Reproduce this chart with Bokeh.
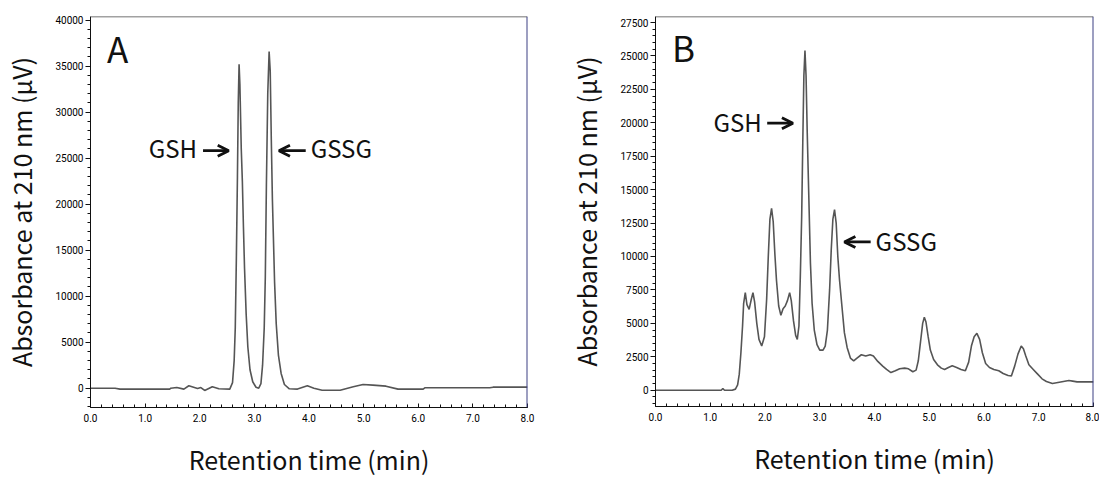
import numpy as np
from bokeh.plotting import figure
from bokeh.layouts import row
from bokeh.models import (FixedTicker, PrintfTickFormatter, BasicTickFormatter,
                          Range1d, Span, Label, Arrow, OpenHead)
from bokeh.embed import file_html
from bokeh.resources import INLINE

# ---------------- data ----------------
time_a = [0.0, 0.45, 0.54, 1.45, 1.47, 1.58, 1.71, 1.80, 1.96, 2.02, 2.09, 2.23, 2.35, 2.55,
          2.60, 2.63, 2.65, 2.67, 2.69, 2.705, 2.72, 2.735, 2.76, 2.78, 2.80, 2.82, 2.85,
          2.88, 2.92, 2.97, 3.03, 3.08, 3.12, 3.15, 3.18, 3.20, 3.22, 3.245, 3.27, 3.29,
          3.31, 3.33, 3.35, 3.37, 3.40, 3.44, 3.49, 3.55, 3.64, 3.79, 3.97, 4.09, 4.24,
          4.57, 4.81, 4.99, 5.17, 5.41, 5.63, 6.09, 6.12, 7.31, 7.37, 8.0]
signal_a = [0, 0, -100, -100, 0, 70, -100, 260, -40, 70, -250, 150, -70, -100,
            600, 3000, 6500, 14000, 23000, 31000, 35200, 33000, 26000, 22500, 17500, 13000, 8000,
            4500, 2000, 700, 100, 0, 500, 2500, 6500, 12000, 22000, 32000, 36600, 34500,
            27000, 20500, 16000, 11500, 7000, 3600, 1600, 400, -70, -100, 260, 0, -220,
            -220, 150, 400, 330, 220, -100, -100, 40, 40, 110, 110]

time_b = [0.0, 1.20, 1.23, 1.26, 1.40, 1.46, 1.50, 1.53, 1.56, 1.59, 1.61, 1.64, 1.67, 1.71,
          1.75, 1.78, 1.81, 1.85, 1.89, 1.94, 1.99, 2.03, 2.06, 2.09, 2.12, 2.15, 2.18, 2.21,
          2.25, 2.29, 2.33, 2.37, 2.41, 2.45, 2.48, 2.52, 2.56, 2.59, 2.62, 2.645, 2.67, 2.69,
          2.71, 2.73, 2.75, 2.77, 2.80, 2.83, 2.86, 2.90, 2.95, 3.00, 3.06, 3.10, 3.14, 3.18,
          3.21, 3.24, 3.27, 3.30, 3.33, 3.36, 3.40, 3.45, 3.50, 3.56, 3.62, 3.68, 3.76, 3.84,
          3.92, 3.98, 4.06, 4.15, 4.22, 4.30, 4.38, 4.46, 4.55, 4.62, 4.70, 4.76, 4.80, 4.84,
          4.88, 4.91, 4.94, 4.98, 5.02, 5.08, 5.15, 5.22, 5.28, 5.35, 5.42, 5.50, 5.58, 5.66,
          5.72, 5.77, 5.82, 5.87, 5.92, 5.97, 6.03, 6.10, 6.18, 6.27, 6.35, 6.44, 6.50, 6.56,
          6.62, 6.68, 6.72, 6.76, 6.82, 6.90, 6.98, 7.06, 7.14, 7.25, 7.35, 7.45, 7.55, 7.62,
          7.70, 8.0]
signal_b = [0, 0, 130, 0, 0, 80, 400, 1200, 2800, 4800, 6500, 7300, 6400, 6050,
            6800, 7300, 6600, 5000, 3800, 3300, 4000, 6800, 10000, 12800, 13600, 12600, 10200, 8200,
            6300, 5600, 6100, 6300, 6700, 7300, 6700, 5200, 4100, 3800, 4800, 8500, 13000, 18500,
            23500, 25400, 23500, 19500, 14500, 9500, 6500, 4500, 3400, 3000, 3000, 3300, 4500, 7500,
            10500, 12800, 13500, 12500, 10000, 8300, 6500, 4300, 3200, 2400, 2200, 2400, 2650, 2550,
            2650, 2550, 2150, 1800, 1550, 1320, 1450, 1600, 1650, 1600, 1380, 1500, 2200, 3600,
            5000, 5450, 5100, 4000, 3000, 2300, 1900, 1650, 1550, 1700, 1820, 1700, 1550, 1450,
            2100, 3300, 4000, 4250, 3800, 2800, 2000, 1700, 1550, 1450, 1250, 1100, 1070, 1800,
            2700, 3300, 3100, 2600, 1900, 1550, 1200, 850, 650, 500, 580, 650, 720, 680,
            620, 620]

x_ticks = [0, 1, 2, 3, 4, 5, 6, 7, 8]
y_ticks_a = [0, 5000, 10000, 15000, 20000, 25000, 30000, 35000, 40000]
y_ticks_b = [0, 2500, 5000, 7500, 10000, 12500, 15000, 17500, 20000, 22500, 25000, 27500]

panel_letters = ["A", "B"]
peak_labels = ["GSH", "GSSG"]
x_title = "Retention time (min)"
y_title = "Absorbance at 210 nm (μV)"

LABEL_FONT = "Noto Sans CJK JP"
TICK_FONT = "Roboto"
INK = "#111111"


def make_panel(t, s, yr, yticks, yminor, fw, fh, bl, br, bt, bb,
               letter, letter_pos, gsh, gssg):
    p = figure(frame_width=fw, frame_height=fh, output_backend="svg",
               toolbar_location=None, x_range=Range1d(0, 8), y_range=Range1d(*yr),
               min_border_left=bl, min_border_right=br, min_border_top=bt,
               min_border_bottom=bb, background_fill_color="white",
               border_fill_color="white")
    p.outline_line_color = None
    p.grid.visible = False

    p.line(t, s, line_color="#555555", line_width=1.6)

    # x axis
    xa = p.xaxis[0]
    xa.ticker = FixedTicker(ticks=x_ticks, minor_ticks=list(np.arange(0, 8.001, 0.2)))
    xa.formatter = PrintfTickFormatter(format="%.1f")
    xa.major_tick_in = 4
    xa.major_tick_out = 0
    xa.minor_tick_in = 3
    xa.minor_tick_out = 0
    xa.major_label_standoff = 6
    xa.axis_label = x_title
    xa.axis_label_standoff = 16
    # y axis
    ya = p.yaxis[0]
    ya.ticker = FixedTicker(ticks=yticks, minor_ticks=yminor)
    ya.formatter = BasicTickFormatter(use_scientific=False)
    ya.major_tick_in = 0
    ya.major_tick_out = 5
    ya.minor_tick_in = 0
    ya.minor_tick_out = 3
    ya.major_label_standoff = 2
    ya.axis_label = y_title
    ya.axis_label_standoff = 13
    for ax in (xa, ya):
        ax.axis_line_color = "#111111"
        ax.major_tick_line_color = "#111111"
        ax.minor_tick_line_color = "#111111"
        ax.major_label_text_font = TICK_FONT
        ax.major_label_text_font_size = "10px"
        ax.major_label_text_color = "#000000"
        ax.axis_label_text_font = LABEL_FONT
        ax.axis_label_text_font_size = "25px"
        ax.axis_label_text_font_style = "normal"
        ax.axis_label_text_color = INK

    # frame top / right borders
    p.add_layout(Span(location=yr[1], dimension="width", line_color="#444444", line_width=1.5))
    p.add_layout(Span(location=8, dimension="height", line_color="#3c4084", line_width=2))

    # panel letter
    p.add_layout(Label(x=letter_pos[0], y=letter_pos[1], text=letter, text_font=LABEL_FONT,
                       text_font_size="35px", text_color=INK,
                       text_align="left", text_baseline="alphabetic"))

    # GSH annotation
    p.add_layout(Label(x=gsh[0], y=gsh[1], text=peak_labels[0], text_font=LABEL_FONT,
                       text_font_size="24px", text_color=INK,
                       text_align="right", text_baseline="alphabetic"))
    p.add_layout(Arrow(end=OpenHead(size=11, line_width=2.8, line_color=INK),
                       x_start=gsh[2], y_start=gsh[4], x_end=gsh[3], y_end=gsh[4],
                       line_width=2.8, line_color=INK))
    # GSSG annotation
    p.add_layout(Label(x=gssg[0], y=gssg[1], text=peak_labels[1], text_font=LABEL_FONT,
                       text_font_size="24px", text_color=INK,
                       text_align="left", text_baseline="alphabetic"))
    p.add_layout(Arrow(end=OpenHead(size=11, line_width=2.8, line_color=INK),
                       x_start=gssg[2], y_start=gssg[4], x_end=gssg[3], y_end=gssg[4],
                       line_width=2.8, line_color=INK))
    return p


pA = make_panel(time_a, signal_a, (-2100, 40400), y_ticks_a,
                list(np.arange(-2000, 40001, 1000)),
                437, 391, 90, 21, 14, 73,
                panel_letters[0], (0.30, 37050),
                (1.95, 26130, 2.06, 2.53, 25820),
                (4.03, 26130, 3.94, 3.45, 25820))

pB = make_panel(time_b, signal_b, (-1220, 27950), y_ticks_b,
                list(np.arange(-1000, 27501, 500)),
                438, 390, 107, 6, 16, 72,
                panel_letters[1], (0.30, 25710),
                (1.94, 20130, 2.04, 2.51, 19970),
                (4.02, 11210, 3.93, 3.45, 11090))

layout = row(pA, pB, spacing=0)

open("out.html", "w").write(file_html(layout, INLINE))
